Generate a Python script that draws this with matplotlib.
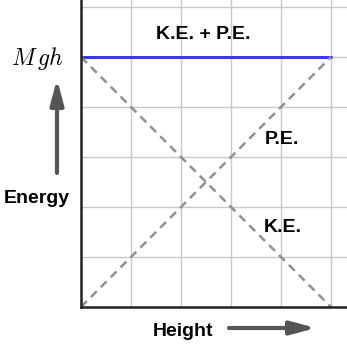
import matplotlib.pyplot as plt

plt.rcParams['mathtext.fontset'] = 'cm'

# energy vs height (grid units)
height = [0, 5]
pe = [0, 5]
ke = [5, 0]
total = [5, 5]

fig = plt.figure(figsize=(3.47, 3.47), dpi=100)
ax = fig.add_axes([81/347, 40/347, 266/347, 307/347])

ax.plot(height, total, color='#3a3af0', lw=2.2, solid_capstyle='round')
ax.plot(height, pe, color='#909090', lw=1.8, ls=(0, (3.3, 2.3)))
ax.plot(height, ke, color='#909090', lw=1.8, ls=(0, (3.3, 2.3)))

ax.set_xlim(0, 266/50)
ax.set_ylim(0, 307/50)
ax.set_xticks(range(0, 6))
ax.set_yticks(range(0, 7))
ax.grid(True, color='#c8c8c8', lw=1)
ax.tick_params(length=0, labelbottom=False, labelleft=False)
for s in ['top', 'right']:
    ax.spines[s].set_visible(False)
for s in ['left', 'bottom']:
    ax.spines[s].set_color('#222222')
    ax.spines[s].set_linewidth(1.8)

font = dict(family='Liberation Sans', fontweight='bold', fontsize=14)
ax.text(2.44, 5.45, 'K.E. + P.E.', ha='center', va='center', **font)
ax.text(3.68, 3.35, 'P.E.', ha='left', va='center', **font)
ax.text(3.66, 1.58, 'K.E.', ha='left', va='center', **font)

fig.text(37/347, 1 - 58/347, r'$M\,gh$', ha='center', va='center', fontsize=17)
fig.text(37/347, 1 - 199/347, 'Energy', ha='center', va='center', **font)
fig.text(183/347, 1 - 331/347, 'Height', ha='center', va='center', **font)

arrow = dict(arrowstyle='-|>,head_length=0.75,head_width=0.2', color='#555555',
             lw=3, mutation_scale=20, shrinkA=0, shrinkB=0)
ax.annotate('', xy=(57/347, 1 - 79/347), xytext=(57/347, 1 - 173/347),
            xycoords='figure fraction', arrowprops=arrow, annotation_clip=False)
ax.annotate('', xy=(316/347, 1 - 328/347), xytext=(229/347, 1 - 328/347),
            xycoords='figure fraction', arrowprops=arrow, annotation_clip=False)

fig.savefig('out.png', dpi=100)
